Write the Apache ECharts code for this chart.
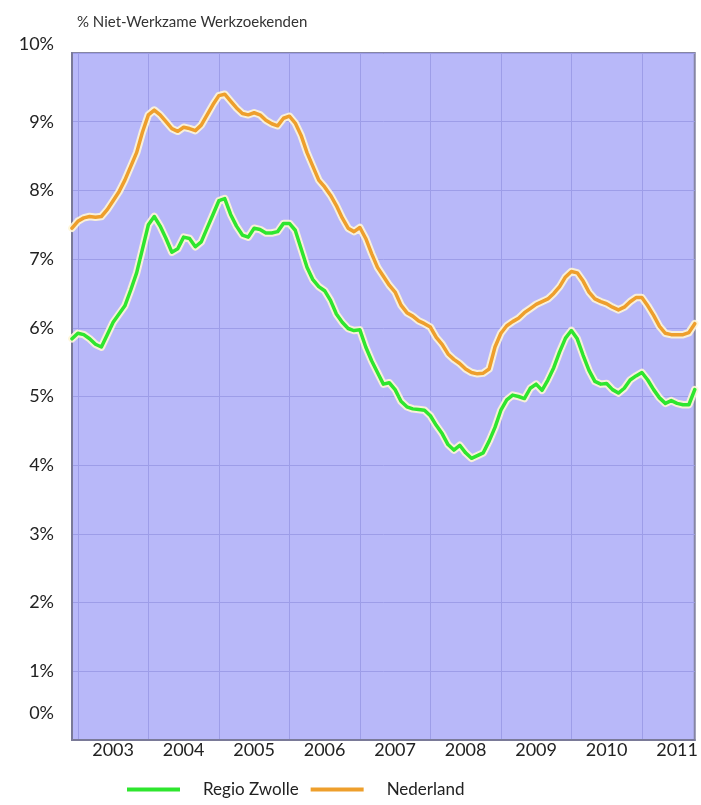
<!DOCTYPE html>
<html>
<head>
<meta charset="utf-8">
<script src="https://cdn.jsdelivr.net/npm/echarts@6/dist/echarts.min.js"></script>
<style>
  html, body { margin: 0; padding: 0; background: #fff; }
  #chart { width: 701px; height: 805px; }
</style>
</head>
<body>
<div id="chart"></div>
<script>
  // maanden dec 2002 t/m okt 2011
  var months = [
    '2002-12',
    '2003-01', '2003-02', '2003-03', '2003-04', '2003-05', '2003-06', '2003-07', '2003-08', '2003-09', '2003-10', '2003-11', '2003-12',
    '2004-01', '2004-02', '2004-03', '2004-04', '2004-05', '2004-06', '2004-07', '2004-08', '2004-09', '2004-10', '2004-11', '2004-12',
    '2005-01', '2005-02', '2005-03', '2005-04', '2005-05', '2005-06', '2005-07', '2005-08', '2005-09', '2005-10', '2005-11', '2005-12',
    '2006-01', '2006-02', '2006-03', '2006-04', '2006-05', '2006-06', '2006-07', '2006-08', '2006-09', '2006-10', '2006-11', '2006-12',
    '2007-01', '2007-02', '2007-03', '2007-04', '2007-05', '2007-06', '2007-07', '2007-08', '2007-09', '2007-10', '2007-11', '2007-12',
    '2008-01', '2008-02', '2008-03', '2008-04', '2008-05', '2008-06', '2008-07', '2008-08', '2008-09', '2008-10', '2008-11', '2008-12',
    '2009-01', '2009-02', '2009-03', '2009-04', '2009-05', '2009-06', '2009-07', '2009-08', '2009-09', '2009-10', '2009-11', '2009-12',
    '2010-01', '2010-02', '2010-03', '2010-04', '2010-05', '2010-06', '2010-07', '2010-08', '2010-09', '2010-10', '2010-11', '2010-12',
    '2011-01', '2011-02', '2011-03', '2011-04', '2011-05', '2011-06', '2011-07', '2011-08', '2011-09', '2011-10'
  ]

  var regioZwolle = [
    5.84,
    5.92, 5.90, 5.84, 5.76, 5.72, 5.90, 6.08, 6.20, 6.32, 6.55, 6.80, 7.15,
    7.50, 7.62, 7.48, 7.30, 7.10, 7.15, 7.32, 7.30, 7.18, 7.25, 7.45, 7.65,
    7.85, 7.88, 7.65, 7.48, 7.35, 7.32, 7.45, 7.43, 7.38, 7.38, 7.40, 7.52,
    7.52, 7.42, 7.15, 6.88, 6.70, 6.60, 6.54, 6.40, 6.20, 6.08, 5.99, 5.96,
    5.97, 5.72, 5.52, 5.35, 5.18, 5.20, 5.10, 4.93, 4.85, 4.82, 4.81, 4.80,
    4.72, 4.58, 4.46, 4.30, 4.22, 4.29, 4.18, 4.10, 4.14, 4.18, 4.35, 4.55,
    4.80, 4.95, 5.02, 5.00, 4.97, 5.12, 5.18, 5.09, 5.24, 5.42, 5.65, 5.85,
    5.96, 5.84, 5.60, 5.38, 5.22, 5.18, 5.19, 5.10, 5.05, 5.12, 5.24, 5.30,
    5.35, 5.24, 5.10, 4.98, 4.90, 4.94, 4.90, 4.88, 4.88, 5.10
  ]

  var nederland = [
    7.45,
    7.55, 7.60, 7.62, 7.61, 7.62, 7.72, 7.85, 7.98, 8.15, 8.35, 8.55, 8.85,
    9.10, 9.17, 9.10, 9.00, 8.90, 8.86, 8.92, 8.90, 8.87, 8.95, 9.10, 9.25,
    9.38, 9.40, 9.30, 9.20, 9.12, 9.10, 9.13, 9.10, 9.02, 8.97, 8.94, 9.05,
    9.08, 8.98, 8.80, 8.55, 8.35, 8.15, 8.05, 7.93, 7.78, 7.60, 7.45, 7.40,
    7.46, 7.30, 7.08, 6.88, 6.75, 6.62, 6.52, 6.33, 6.22, 6.17, 6.10, 6.06,
    6.01, 5.86, 5.76, 5.62, 5.54, 5.48, 5.40, 5.35, 5.33, 5.34, 5.40, 5.72,
    5.92, 6.03, 6.09, 6.14, 6.22, 6.28, 6.34, 6.38, 6.42, 6.50, 6.60, 6.74,
    6.82, 6.80, 6.68, 6.52, 6.42, 6.38, 6.35, 6.30, 6.26, 6.30, 6.38, 6.44,
    6.44, 6.32, 6.18, 6.02, 5.92, 5.90, 5.90, 5.90, 5.93, 6.06
  ]

  var yTicks = [0, 1, 2, 3, 4, 5, 6, 7, 8, 9, 10]

  var font = 'Lato, "DejaVu Sans", sans-serif'
  var halo = 'rgba(255, 246, 214, 0.9)'

  function lineSeries (name, data, color, width) {
    return {
      name: name,
      type: 'line',
      data: data,
      symbol: 'none',
      silent: true,
      lineStyle: { color: color, width: width, cap: 'round', join: 'round' },
      itemStyle: { color: color }
    }
  }

  var option = {
    backgroundColor: '#ffffff',
    animation: false,
    title: {
      text: '% Niet-Werkzame Werkzoekenden',
      left: 72,
      top: 10,
      textStyle: { fontFamily: font, fontSize: 15, fontWeight: 'normal', color: '#333' }
    },
    legend: {
      data: ['Regio Zwolle', 'Nederland'],
      left: 122,
      top: 776,
      icon: 'rect',
      itemWidth: 53,
      itemHeight: 4,
      itemGap: 12,
      textStyle: { fontFamily: font, fontSize: 17, color: '#222', padding: [0, 0, 0, 18] }
    },
    grid: {
      left: 72,
      top: 53,
      width: 632,
      height: 687,
      show: true,
      backgroundColor: '#b8b8f9',
      borderColor: '#8585a3',
      borderWidth: 2
    },
    xAxis: {
      type: 'category',
      data: months,
      boundaryGap: false,
      axisLine: { show: true, lineStyle: { color: '#7a7a98', width: 2 } },
      axisTick: { show: false },
      axisLabel: {
        interval: function (idx, val) { return val.slice(5) === '07' },
        formatter: function (val) { return val.slice(0, 4) },
        margin: 1,
        fontFamily: font,
        fontSize: 18,
        color: '#222'
      },
      splitLine: {
        show: true,
        interval: function (idx, val) { return val.slice(5) === '01' },
        lineStyle: { color: '#9d9de8', width: 1 }
      }
    },
    yAxis: {
      type: 'value',
      min: yTicks[0],
      max: yTicks[yTicks.length - 1],
      interval: 1,
      axisLine: { show: true, lineStyle: { color: '#7a7a98', width: 2 } },
      axisTick: { show: false },
      axisLabel: {
        margin: 18,
        fontFamily: font,
        fontSize: 18,
        color: '#222',
        formatter: function (v) {
          if (v === 10) return '{top|' + v + '%}'
          if (v === 0) return '{bot|' + v + '%}'
          return v + '%'
        },
        rich: {
          top: { fontFamily: font, fontSize: 18, color: '#222', padding: [0, 0, 18, 0] },
          bot: { fontFamily: font, fontSize: 18, color: '#222', padding: [0, 0, 54, 0] }
        }
      },
      splitLine: { show: true, lineStyle: { color: '#9d9de8', width: 1 } }
    },
    series: [
      lineSeries('haloZwolle', regioZwolle, halo, 7.5),
      lineSeries('Regio Zwolle', regioZwolle, '#2ee62e', 3.5),
      lineSeries('haloNederland', nederland, halo, 7.5),
      lineSeries('Nederland', nederland, '#ee9f2c', 3.5)
    ]
  }

  var chart = echarts.init(document.getElementById('chart'))
  chart.setOption(option)
</script>
</body>
</html>
